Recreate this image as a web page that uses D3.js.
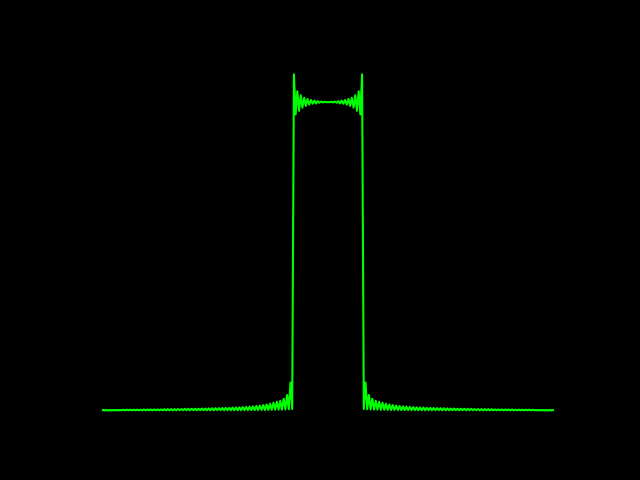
<!DOCTYPE html>
<html>
<head>
<meta charset="utf-8">
<script src="https://cdn.jsdelivr.net/npm/d3@7"></script>
<style>
  html, body { margin: 0; padding: 0; background: #000000; }
  svg { display: block; background: #000000; }
</style>
</head>
<body>
<div id="chart"></div>
<script>
// Magnitude spectrum samples (uniform frequency bins).
// Left stop-band tail (bins 0..111), alternating lobe peaks and nulls
const leftTail = [
  0.0010, 0.0001, 0.0011, 0.0001, 0.0012, 0.0001, 0.0013, 0.0001, 0.0015, 0.0001,
  0.0016, 0.0002, 0.0018, 0.0002, 0.0019, 0.0002, 0.0021, 0.0002, 0.0022, 0.0002,
  0.0024, 0.0002, 0.0026, 0.0002, 0.0027, 0.0002, 0.0029, 0.0003, 0.0030, 0.0003,
  0.0032, 0.0003, 0.0034, 0.0003, 0.0035, 0.0003, 0.0037, 0.0003, 0.0039, 0.0003,
  0.0041, 0.0004, 0.0043, 0.0004, 0.0045, 0.0004, 0.0047, 0.0004, 0.0049, 0.0004,
  0.0051, 0.0005, 0.0053, 0.0005, 0.0055, 0.0005, 0.0057, 0.0005, 0.0060, 0.0006,
  0.0062, 0.0006, 0.0065, 0.0006, 0.0068, 0.0006, 0.0071, 0.0007, 0.0074, 0.0007,
  0.0078, 0.0007, 0.0082, 0.0008, 0.0086, 0.0008, 0.0090, 0.0009, 0.0095, 0.0009,
  0.0100, 0.0010, 0.0106, 0.0010, 0.0113, 0.0011, 0.0121, 0.0012, 0.0130, 0.0013,
  0.0141, 0.0014, 0.0154, 0.0015, 0.0170, 0.0016, 0.0190, 0.0018, 0.0215, 0.0020,
  0.0246, 0.0022, 0.0280, 0.0025, 0.0310, 0.0028, 0.0380, 0.0032, 0.0500, 0.0038,
  0.0900, 0.0045
];
// Pass band with Gibbs ringing (bins 112..152)
const passBand = [
  1.090, 0.960, 1.035, 0.972, 1.022, 0.982, 1.014, 0.988, 1.010, 0.992,
  1.007, 0.995, 1.005, 0.996, 1.003, 0.998, 1.002, 0.999, 1.001, 0.9995,
  1.000,
  0.9995, 1.001, 0.999, 1.002, 0.998, 1.003, 0.996, 1.005, 0.995, 1.007,
  0.992, 1.010, 0.988, 1.014, 0.982, 1.022, 0.972, 1.035, 0.960, 1.090
];
// Right stop-band tail (bins 153..264)
const rightTail = [
  0.0045, 0.0900,
  0.0038, 0.0500, 0.0032, 0.0380, 0.0028, 0.0310, 0.0025, 0.0280, 0.0022, 0.0246,
  0.0020, 0.0215, 0.0018, 0.0190, 0.0016, 0.0170, 0.0015, 0.0154, 0.0014, 0.0141,
  0.0013, 0.0130, 0.0012, 0.0121, 0.0011, 0.0113, 0.0010, 0.0106, 0.0010, 0.0100,
  0.0009, 0.0095, 0.0009, 0.0090, 0.0008, 0.0086, 0.0008, 0.0082, 0.0007, 0.0078,
  0.0007, 0.0074, 0.0007, 0.0071, 0.0006, 0.0068, 0.0006, 0.0065, 0.0006, 0.0062,
  0.0006, 0.0060, 0.0005, 0.0057, 0.0005, 0.0055, 0.0005, 0.0053, 0.0005, 0.0051,
  0.0004, 0.0049, 0.0004, 0.0047, 0.0004, 0.0045, 0.0004, 0.0043, 0.0004, 0.0041,
  0.0003, 0.0039, 0.0003, 0.0037, 0.0003, 0.0035, 0.0003, 0.0034, 0.0003, 0.0032,
  0.0003, 0.0030, 0.0003, 0.0029, 0.0002, 0.0027, 0.0002, 0.0026, 0.0002, 0.0024,
  0.0002, 0.0022, 0.0002, 0.0021, 0.0002, 0.0019, 0.0002, 0.0018, 0.0002, 0.0016,
  0.0001, 0.0015, 0.0001, 0.0013, 0.0001, 0.0012, 0.0001, 0.0011, 0.0001, 0.0010
];

const magnitude = leftTail.concat(passBand, rightTail);
const bins = magnitude.map((v, i) => ({ bin: i, value: v }));

const width = 640, height = 480;
const svg = d3.select("#chart").append("svg")
  .attr("width", width).attr("height", height);

svg.append("rect").attr("width", width).attr("height", height).attr("fill", "#000000");

const x = d3.scaleLinear()
  .domain([0, magnitude.length - 1])
  .range([103, 553]);

const ext = d3.extent(magnitude);
const pad = (ext[1] - 0) * 0.05;
const y = d3.scaleLinear()
  .domain([0 - pad, ext[1] + pad])
  .range([427.2, 57.6]);

const line = d3.line()
  .x(d => x(d.bin))
  .y(d => y(d.value));

svg.append("path")
  .datum(bins)
  .attr("d", line)
  .attr("fill", "none")
  .attr("stroke", "#00ff00")
  .attr("stroke-width", 2.08)
  .attr("stroke-linejoin", "round")
  .attr("stroke-linecap", "square");
</script>
</body>
</html>
